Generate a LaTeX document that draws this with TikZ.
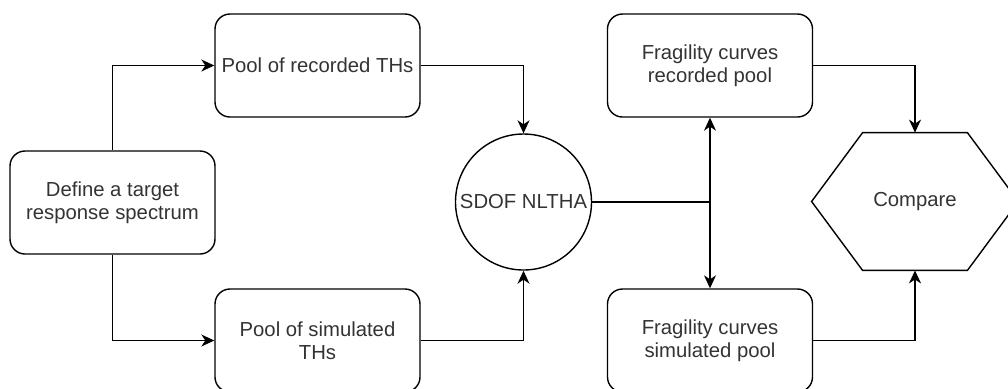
\documentclass[tikz,border=0pt]{standalone}
\usepackage{fontspec}
\setmainfont{Liberation Sans}
\usetikzlibrary{arrows.meta}

\begin{document}
\begin{tikzpicture}[x=0.5pt, y=-0.5pt,
    every node/.style={font=\fontsize{10.15}{11.5}\selectfont, text=black!80},
    box/.style={draw, line width=0.7pt, rounded corners=7.5pt, minimum width=102.5pt,
      minimum height=51.5pt, inner sep=0pt, align=center},
    arr/.style={-{Stealth[length=6.5pt, width=6pt, inset=2pt]}, line width=0.7pt}]

  \clip (0,0) rectangle (1008,388);

  % Boxes
  \node[box] (def)  at (112.5,202.5) {Define a target\\response spectrum};
  \node[box] (rec)  at (317.5,65.5)  {Pool of recorded THs};
  \node[box] (sim)  at (317.5,340.5) {Pool of simulated\\THs};
  \node[draw, circle, line width=0.7pt, minimum size=68pt, inner sep=0pt] (sdof) at (523.5,202) {SDOF NLTHA};
  \node[box] (frec) at (710,65.5)  {Fragility curves\\recorded pool};
  \node[box] (fsim) at (710,340.5) {Fragility curves\\simulated pool};

  % Hexagon
  \node[minimum width=103pt, minimum height=68.5pt, inner sep=0pt] (cmp) at (915,201.5) {Compare};
  \draw[line width=0.7pt] (cmp.west) -- ([xshift=25.5pt]cmp.north west) -- ([xshift=-25.5pt]cmp.north east)
    -- (cmp.east) -- ([xshift=-25.5pt]cmp.south east) -- ([xshift=25.5pt]cmp.south west) -- cycle;

  % Connectors
  \draw[arr] (def.north) |- (rec.west);
  \draw[arr] (def.south) |- (sim.west);
  \draw[arr] (rec.east) -| (sdof.north);
  \draw[arr] (sim.east) -| (sdof.south);

  \coordinate (split) at (sdof.east -| frec.south);
  \draw[line width=0.7pt] (sdof.east) -- (split);
  \draw[arr] (split) -- (frec.south);
  \draw[arr] (split) -- (fsim.north);

  \draw[arr] (frec.east) -| (cmp.north);
  \draw[arr] (fsim.east) -| (cmp.south);

\end{tikzpicture}
\end{document}
